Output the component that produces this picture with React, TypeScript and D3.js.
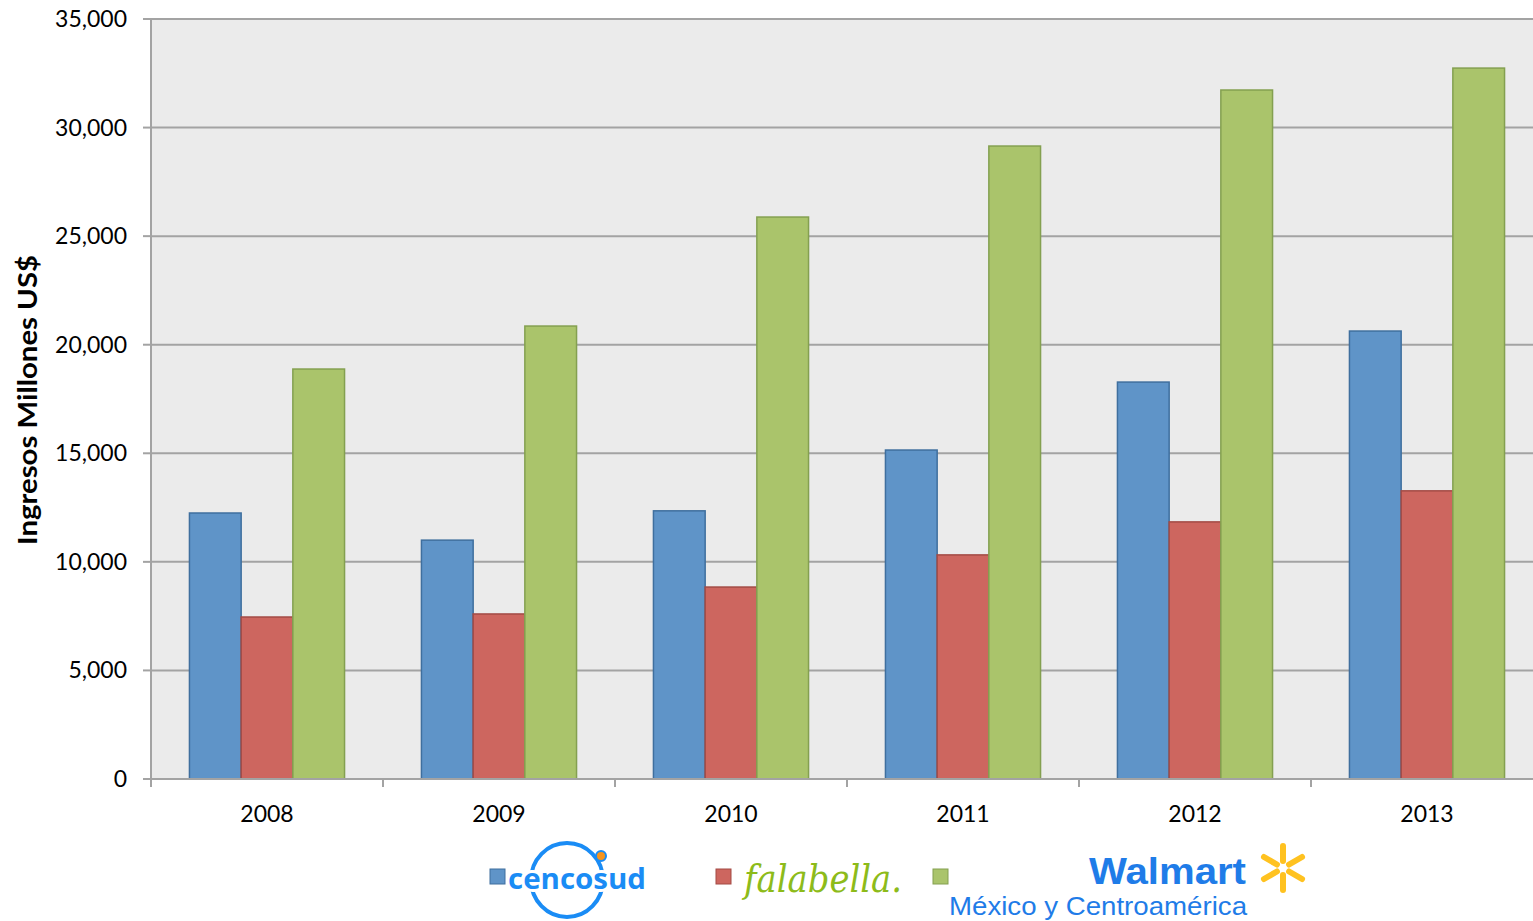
import React from "react";
import * as d3 from "d3";

const years = ["2008", "2009", "2010", "2011", "2012", "2013"];
const seriesNames = ["Cencosud", "Falabella", "Walmart México y Centroamérica"];
const cencosud = [12250, 11000, 12350, 15150, 18280, 20630];
const falabella = [7460, 7600, 8840, 10320, 11840, 13270];
const walmart = [18880, 20860, 25880, 29150, 31730, 32740];
const yTicks = [0, 5000, 10000, 15000, 20000, 25000, 30000, 35000];
const fills = ["#5f94c8", "#cd665f", "#aac46b"];
const strokes = ["#3f6f9e", "#a34b45", "#84a050"];

export default function App() {
  const W = 1533, H = 921;
  const x0 = 151, y0 = 779, yTop = 19;
  const band = 232;
  const x = d3.scaleBand<string>().domain(years).range([x0, x0 + band * years.length]).paddingInner(0).paddingOuter(0);
  const y = d3.scaleLinear().domain([0, 35000]).range([y0, yTop]);
  const series = [cencosud, falabella, walmart];
  const barW = 51.7;
  const groupOff = (band - barW * 3) / 2;
  const font = "Lato, 'Open Sans', sans-serif";
  const fmt = d3.format(",");

  const sparkC = { x: 1283, y: 868 };
  const petals = d3.range(6).map((i) => -90 + i * 60);

  return (
    <svg width={W} height={H} style={{ position: "absolute", left: 0, top: 0, background: "#fff" }}>
      <rect x={x0} y={yTop} width={W - x0} height={y0 - yTop} fill="#ebebeb" />
      {yTicks.map((t) => (
        <g key={t}>
          {t > 0 && <line x1={x0} x2={W} y1={y(t)} y2={y(t)} stroke="#a3a3a3" strokeWidth={2} />}
          <line x1={x0 - 8} x2={x0} y1={y(t)} y2={y(t)} stroke="#a3a3a3" strokeWidth={2} />
          <text x={127} y={y(t)} dy="0.35em" textAnchor="end" fontFamily={font} fontSize={23} fill="#000">
            {fmt(t)}
          </text>
        </g>
      ))}
      {years.map((yr, i) => (
        <g key={yr}>
          {series.map((s, k) => (
            <rect
              key={k}
              x={(x(yr) as number) + groupOff + k * barW}
              y={y(s[i])}
              width={barW}
              height={y0 - y(s[i])}
              fill={fills[k]}
              stroke={strokes[k]}
              strokeWidth={1.5}
            />
          ))}
          <text x={(x(yr) as number) + band / 2} y={814} dy="0.35em" textAnchor="middle" fontFamily={font} fontSize={23} fill="#000">
            {yr}
          </text>
        </g>
      ))}
      {d3.range(years.length + 1).map((i) => (
        <line key={i} x1={x0 + i * band} x2={x0 + i * band} y1={y0} y2={y0 + 8} stroke="#a3a3a3" strokeWidth={2} />
      ))}
      <line x1={x0} x2={x0} y1={yTop} y2={y0} stroke="#a3a3a3" strokeWidth={2} />
      <line x1={x0} x2={W} y1={y0} y2={y0} stroke="#a3a3a3" strokeWidth={2} />
      <text
        transform={`translate(37,400) rotate(-90)`}
        textAnchor="middle"
        fontFamily={font}
        fontWeight="bold"
        fontSize={27}
        fill="#000"
        textLength={290}
        lengthAdjust="spacingAndGlyphs"
      >
        Ingresos Millones US$
      </text>

      {/* Legend */}
      <g>
        <rect x={490} y={869} width={15} height={15} fill={fills[0]} stroke={strokes[0]} />
        <ellipse cx={567} cy={880} rx={36} ry={37} fill="none" stroke="#1a8cf5" strokeWidth={4} />
        <circle cx={601} cy={856} r={5} fill="#f7941d" stroke="#1a8cf5" strokeWidth={2} />
        <text x={577} y={889} textAnchor="middle" fontFamily="'Open Sans', sans-serif" fontWeight="bold" fontSize={29}
          fill="#1a8cf5" stroke="#fff" strokeWidth={6} paintOrder="stroke" textLength={138} lengthAdjust="spacingAndGlyphs">
          cencosud
        </text>
        <title>{seriesNames[0]}</title>
      </g>
      <g>
        <rect x={716} y={869} width={15} height={15} fill={fills[1]} stroke={strokes[1]} />
        <text x={744} y={892} fontFamily="'DejaVu Serif', serif" fontStyle="italic" fontSize={40} fill="#8dbb1a"
          textLength={158} lengthAdjust="spacingAndGlyphs" fontWeight="300">
          falabella.
        </text>
        <title>{seriesNames[1]}</title>
      </g>
      <g>
        <rect x={933} y={869} width={15} height={15} fill={fills[2]} stroke={strokes[2]} />
        <text x={1089} y={884} fontFamily="'Liberation Sans', Arial, sans-serif" fontWeight="bold" fontSize={37} fill="#1f7ce8"
          textLength={157} lengthAdjust="spacingAndGlyphs">
          Walmart
        </text>
        {petals.map((a) => {
          const r = (a * Math.PI) / 180;
          return (
            <line key={a}
              x1={sparkC.x + Math.cos(r) * 7} y1={sparkC.y + Math.sin(r) * 7}
              x2={sparkC.x + Math.cos(r) * 22} y2={sparkC.y + Math.sin(r) * 22}
              stroke="#ffc220" strokeWidth={6} strokeLinecap="round" />
          );
        })}
        <text x={949} y={915} fontFamily="'Liberation Sans', Arial, sans-serif" fontSize={26} fill="#1f7ce8"
          textLength={298} lengthAdjust="spacingAndGlyphs">
          México y Centroamérica
        </text>
        <title>{seriesNames[2]}</title>
      </g>
    </svg>
  );
}
